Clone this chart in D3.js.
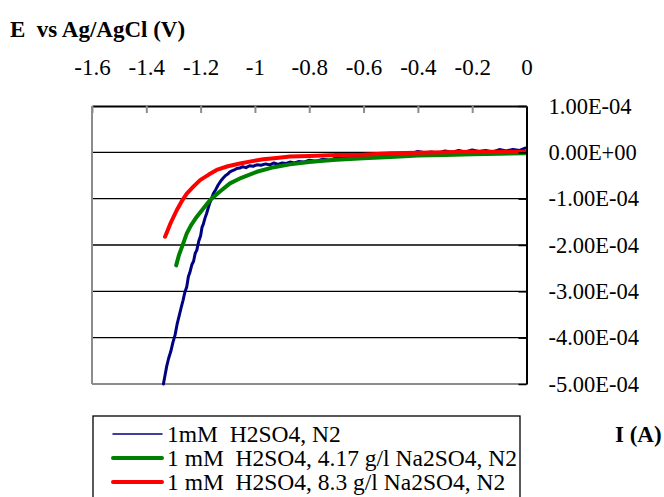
<!DOCTYPE html>
<html>
<head>
<meta charset="utf-8">
<script src="https://cdn.jsdelivr.net/npm/d3@7"></script>
<style>
  body { margin: 0; background: #fff; }
  svg { display: block; }
  svg text { font-family: "Liberation Serif", "Times New Roman", serif; }
</style>
</head>
<body>
<svg id="chart" width="664" height="497"></svg>
<script>
// Axis ticks
const potentialTicks = [-1.6, -1.4, -1.2, -1, -0.8, -0.6, -0.4, -0.2, 0];
const currentTicks = [1e-4, 0, -1e-4, -2e-4, -3e-4, -4e-4, -5e-4];
const currentLabels = ["1.00E-04", "0.00E+00", "-1.00E-04", "-2.00E-04", "-3.00E-04", "-4.00E-04", "-5.00E-04"];

// Series: [E (V), I (A)]
const seriesH2SO4 = [
    [-1.337, -5.0e-4], [-1.330, -4.78e-4], [-1.325, -4.62e-4], [-1.318, -4.45e-4], [-1.310, -4.30e-4],
    [-1.302, -4.10e-4], [-1.294, -3.94e-4], [-1.287, -3.72e-4], [-1.280, -3.55e-4], [-1.272, -3.36e-4],
    [-1.265, -3.20e-4], [-1.258, -3.02e-4], [-1.251, -2.90e-4], [-1.245, -2.68e-4], [-1.240, -2.60e-4],
    [-1.232, -2.42e-4], [-1.226, -2.35e-4], [-1.220, -2.18e-4], [-1.214, -2.11e-4], [-1.207, -1.92e-4],
    [-1.200, -1.80e-4], [-1.195, -1.62e-4], [-1.190, -1.55e-4], [-1.184, -1.42e-4], [-1.178, -1.32e-4],
    [-1.168, -1.12e-4], [-1.160, -1.00e-4], [-1.153, -0.89e-4], [-1.144, -0.80e-4], [-1.135, -0.70e-4],
    [-1.126, -0.62e-4], [-1.116, -0.55e-4], [-1.108, -0.50e-4], [-1.100, -0.47e-4], [-1.092, -0.42e-4],
    [-1.085, -0.40e-4], [-1.076, -0.38e-4], [-1.067, -0.35e-4], [-1.056, -0.34e-4], [-1.045, -0.31e-4],
    [-1.033, -0.33e-4], [-1.020, -0.29e-4], [-1.006, -0.30e-4], [-0.993, -0.27e-4], [-0.978, -0.28e-4],
    [-0.960, -0.25e-4], [-0.945, -0.27e-4], [-0.930, -0.23e-4], [-0.915, -0.26e-4], [-0.900, -0.23e-4],
    [-0.885, -0.24e-4], [-0.871, -0.21e-4], [-0.855, -0.23e-4], [-0.840, -0.20e-4], [-0.820, -0.21e-4],
    [-0.800, -0.17e-4], [-0.775, -0.19e-4], [-0.749, -0.15e-4], [-0.725, -0.17e-4], [-0.700, -0.12e-4],
    [-0.675, -0.13e-4], [-0.650, -0.09e-4], [-0.625, -0.11e-4], [-0.600, -0.07e-4], [-0.575, -0.08e-4],
    [-0.550, -0.03e-4], [-0.525, -0.06e-4], [-0.500, -0.04e-4], [-0.475, -0.05e-4], [-0.450, -0.01e-4],
    [-0.425, -0.03e-4], [-0.400, 0.02e-4], [-0.375, -0.01e-4], [-0.350, 0.01e-4], [-0.325, -0.02e-4],
    [-0.300, 0.03e-4], [-0.275, 0.00e-4], [-0.250, 0.04e-4], [-0.225, 0.01e-4], [-0.200, 0.05e-4],
    [-0.175, 0.02e-4], [-0.150, 0.04e-4], [-0.125, 0.01e-4], [-0.100, 0.06e-4], [-0.075, 0.03e-4],
    [-0.050, 0.06e-4], [-0.025, 0.04e-4], [-0.005, 0.09e-4]
];

const seriesNa417 = [
    [-1.290, -2.44e-4], [-1.280, -2.22e-4], [-1.265, -1.98e-4], [-1.251, -1.75e-4], [-1.235, -1.57e-4],
    [-1.214, -1.39e-4], [-1.190, -1.21e-4], [-1.165, -1.03e-4], [-1.130, -0.85e-4], [-1.092, -0.67e-4],
    [-1.050, -0.55e-4], [-0.993, -0.42e-4], [-0.930, -0.32e-4], [-0.871, -0.26e-4], [-0.800, -0.21e-4],
    [-0.748, -0.18e-4], [-0.700, -0.16e-4], [-0.600, -0.13e-4], [-0.500, -0.10e-4], [-0.400, -0.07e-4],
    [-0.300, -0.06e-4], [-0.200, -0.04e-4], [-0.100, -0.03e-4], [-0.005, -0.02e-4]
];

const seriesNa83 = [
    [-1.331, -1.82e-4], [-1.310, -1.52e-4], [-1.288, -1.25e-4], [-1.270, -1.06e-4], [-1.251, -0.89e-4],
    [-1.225, -0.73e-4], [-1.202, -0.60e-4], [-1.170, -0.48e-4], [-1.141, -0.38e-4], [-1.100, -0.30e-4],
    [-1.055, -0.24e-4], [-1.010, -0.19e-4], [-0.969, -0.15e-4], [-0.920, -0.12e-4], [-0.871, -0.09e-4],
    [-0.800, -0.08e-4], [-0.700, -0.06e-4], [-0.600, -0.05e-4], [-0.500, -0.02e-4], [-0.400, -0.01e-4],
    [-0.300, 0.00e-4], [-0.200, 0.01e-4], [-0.100, 0.01e-4], [-0.005, 0.01e-4]
];

const seriesNames = ["1mM  H2SO4, N2", "1 mM  H2SO4, 4.17 g/l Na2SO4, N2", "1 mM  H2SO4, 8.3 g/l Na2SO4, N2"];
const seriesColors = ["#000080", "#008000", "#ff0000"];
const seriesWidths = [3, 4, 4];
const legendWidths = [1.5, 4, 4];

const svg = d3.select("#chart");
const serif = "'Liberation Serif', 'Times New Roman', serif";

const x = d3.scaleLinear().domain([-1.6, 0]).range([92, 526.5]);
const y = d3.scaleLinear().domain([-5e-4, 1e-4]).range([384, 106]);

// gridlines
svg.append("g")
    .selectAll("line")
    .data(currentTicks.slice(1, -1))
    .enter().append("line")
    .attr("x1", x(-1.6)).attr("x2", x(0))
    .attr("y1", d => y(d)).attr("y2", d => y(d))
    .attr("stroke", "#000").attr("stroke-width", 1.3);

// plot frame (left / bottom gray)
svg.append("line")
    .attr("x1", x(-1.6)).attr("x2", x(-1.6))
    .attr("y1", y(1e-4)).attr("y2", y(-5e-4))
    .attr("stroke", "#8c8c8c").attr("stroke-width", 2);
svg.append("line")
    .attr("x1", x(-1.6)).attr("x2", x(0))
    .attr("y1", y(-5e-4)).attr("y2", y(-5e-4))
    .attr("stroke", "#8c8c8c").attr("stroke-width", 2);

// series
const line = d3.line().x(d => x(d[0])).y(d => y(d[1]));
[seriesH2SO4, seriesNa417, seriesNa83].forEach((s, i) => {
    svg.append("path")
        .datum(s)
        .attr("fill", "none")
        .attr("stroke", seriesColors[i])
        .attr("stroke-width", seriesWidths[i])
        .attr("stroke-linejoin", "round")
        .attr("stroke-linecap", "round")
        .attr("d", line);
});

// top axis (potential) - plain hyphen for negatives
const xAxis = svg.append("g")
    .attr("transform", `translate(0,${y(1e-4)})`)
    .call(d3.axisTop(x).tickValues(potentialTicks).tickFormat(d => String(d)).tickSize(-7).tickSizeOuter(0).tickPadding(31));
xAxis.attr("font-family", serif);
xAxis.select(".domain").attr("stroke", "#000").attr("stroke-width", 2);
xAxis.selectAll(".tick line").attr("stroke", "#8c8c8c").attr("stroke-width", 2);
xAxis.selectAll(".tick text")
    .attr("fill", "#000")
    .style("font-size", "23px");

// right axis (current)
const yAxis = svg.append("g")
    .attr("transform", `translate(${x(0)},0)`)
    .call(d3.axisRight(y).tickValues(currentTicks).tickFormat((d, i) => currentLabels[i]).tickSize(-8).tickSizeOuter(0).tickPadding(22));
yAxis.attr("font-family", serif);
yAxis.select(".domain").attr("stroke", "#000").attr("stroke-width", 2);
yAxis.selectAll(".tick line").attr("stroke", "#000").attr("stroke-width", 1.5);
yAxis.selectAll(".tick text")
    .attr("fill", "#000")
    .style("font-size", "22.5px");

// axis titles
svg.append("text")
    .attr("x", 10).attr("y", 37)
    .style("font-size", "23px").style("font-weight", "bold")
    .attr("xml:space", "preserve")
    .text("E  vs Ag/AgCl (V)");
svg.append("text")
    .attr("x", 615).attr("y", 442)
    .style("font-size", "23px").style("font-weight", "bold")
    .text("I (A)");

// legend
const legend = svg.append("g");
legend.append("rect")
    .attr("x", 93).attr("y", 416).attr("width", 427).attr("height", 100)
    .attr("fill", "#fff").attr("stroke", "#000").attr("stroke-width", 1.3);
const item = legend.selectAll(".item")
    .data(seriesNames)
    .enter().append("g")
    .attr("transform", (d, i) => `translate(0,${434 + i * 24})`);
item.append("line")
    .attr("x1", 113).attr("x2", 162)
    .attr("stroke", (d, i) => seriesColors[i])
    .attr("stroke-width", (d, i) => legendWidths[i])
    .attr("stroke-linecap", "round");
item.append("text")
    .attr("x", 167).attr("y", 8)
    .attr("xml:space", "preserve")
    .style("font-size", "23.5px")
    .text(d => d);
</script>
</body>
</html>
